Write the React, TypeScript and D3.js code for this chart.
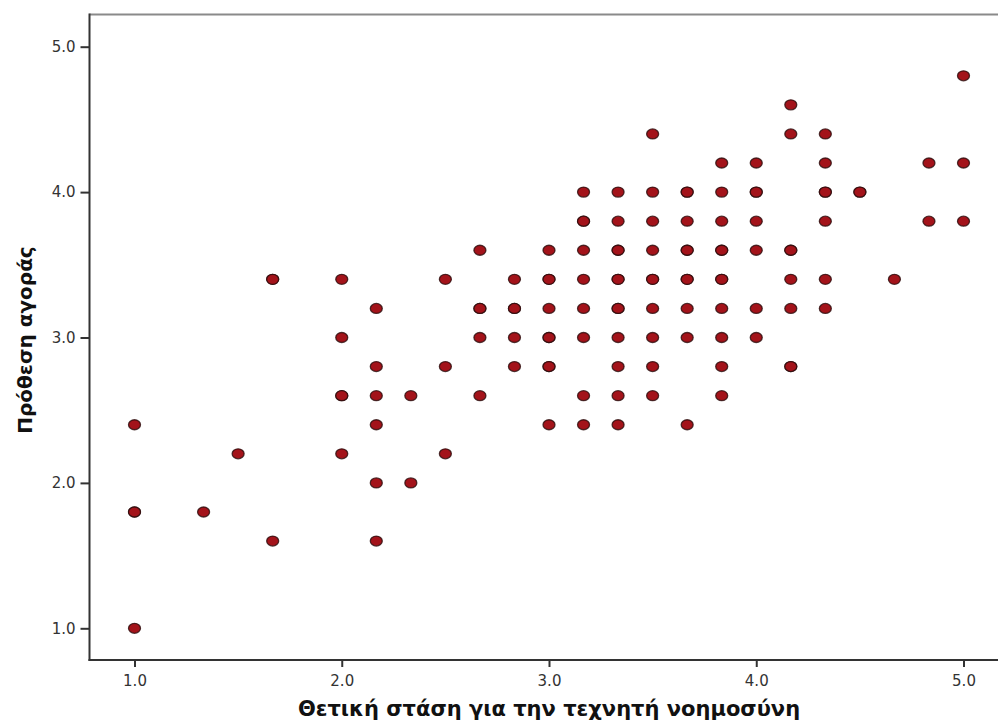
import React, { useEffect, useRef } from "react";
import * as d3 from "d3";

// x values are on a 1/6 grid (mean of 6 items), y on a 0.2 grid (mean of 5 items)
const xCols: number[] = [
  1, 1, 1, 1,
  4 / 3,
  1.5,
  5 / 3, 5 / 3, 5 / 3,
  2, 2, 2, 2, 2,
  13 / 6, 13 / 6, 13 / 6, 13 / 6, 13 / 6, 13 / 6,
  7 / 3, 7 / 3,
  2.5, 2.5, 2.5,
  8 / 3, 8 / 3, 8 / 3, 8 / 3, 8 / 3,
  17 / 6, 17 / 6, 17 / 6, 17 / 6, 17 / 6,
  3, 3, 3, 3, 3, 3, 3, 3, 3,
  19 / 6, 19 / 6, 19 / 6, 19 / 6, 19 / 6, 19 / 6, 19 / 6, 19 / 6, 19 / 6,
  10 / 3, 10 / 3, 10 / 3, 10 / 3, 10 / 3, 10 / 3, 10 / 3, 10 / 3, 10 / 3, 10 / 3, 10 / 3, 10 / 3,
  3.5, 3.5, 3.5, 3.5, 3.5, 3.5, 3.5, 3.5, 3.5, 3.5,
  11 / 3, 11 / 3, 11 / 3, 11 / 3, 11 / 3, 11 / 3, 11 / 3, 11 / 3, 11 / 3, 11 / 3,
  23 / 6, 23 / 6, 23 / 6, 23 / 6, 23 / 6, 23 / 6, 23 / 6, 23 / 6, 23 / 6, 23 / 6, 23 / 6,
  4, 4, 4, 4, 4, 4, 4,
  25 / 6, 25 / 6, 25 / 6, 25 / 6, 25 / 6, 25 / 6, 25 / 6, 25 / 6,
  13 / 3, 13 / 3, 13 / 3, 13 / 3, 13 / 3, 13 / 3, 13 / 3,
  4.5, 4.5,
  14 / 3,
  29 / 6, 29 / 6,
  5, 5, 5,
];

const yRows: number[] = [
  2.4, 1.8, 1.8, 1.0,
  1.8,
  2.2,
  3.4, 3.4, 1.6,
  3.4, 3.0, 2.6, 2.6, 2.2,
  3.2, 2.8, 2.6, 2.4, 2.0, 1.6,
  2.6, 2.0,
  3.4, 2.8, 2.2,
  3.6, 3.2, 3.2, 3.0, 2.6,
  3.4, 3.2, 3.2, 3.0, 2.8,
  3.6, 3.4, 3.2, 3.0, 3.0, 2.8, 2.8, 2.4, 3.4,
  4.0, 3.8, 3.8, 3.6, 3.4, 3.2, 3.0, 2.6, 2.4,
  4.0, 3.8, 3.6, 3.6, 3.4, 3.4, 3.2, 3.2, 3.0, 2.8, 2.6, 2.4,
  4.4, 4.0, 3.8, 3.6, 3.4, 3.4, 3.2, 3.0, 2.8, 2.6,
  4.0, 4.0, 3.8, 3.6, 3.6, 3.4, 3.4, 3.2, 3.0, 2.4,
  4.2, 4.0, 3.8, 3.6, 3.6, 3.4, 3.4, 3.2, 3.0, 2.8, 2.6,
  4.2, 4.0, 4.0, 3.8, 3.6, 3.2, 3.0,
  4.6, 4.4, 3.6, 3.6, 3.4, 3.2, 2.8, 2.8,
  4.4, 4.2, 4.0, 4.0, 3.8, 3.4, 3.2,
  4.0, 4.0,
  3.4,
  4.2, 3.8,
  4.8, 4.2, 3.8,
];

const tickValues: number[] = [1, 2, 3, 4, 5];
const xTitle = "Θετική στάση για την τεχνητή νοημοσύνη";
const yTitle = "Πρόθεση αγοράς";

const W = 998;
const H = 727;

export default function App() {
  const ref = useRef<SVGSVGElement | null>(null);

  useEffect(() => {
    const svg = d3.select(ref.current);
    svg.selectAll("*").remove();

    const x = d3.scaleLinear().domain([1, 5]).range([134.5, 963.5]);
    const y = d3.scaleLinear().domain([1, 5]).range([628.3, 46.7]);

    const left = 89.5;
    const top = 14.5;
    const bottom = 660;

    svg.append("line")
      .attr("x1", left).attr("x2", W + 5)
      .attr("y1", top).attr("y2", top)
      .attr("stroke", "#8a8a8a").attr("stroke-width", 2);

    const fmt = d3.format(".1f");

    const gx = svg.append("g").attr("transform", `translate(0,${bottom})`);
    gx.call(
      d3.axisBottom(x).tickValues(tickValues).tickFormat((d) => fmt(d as number))
        .tickSize(7).tickPadding(8)
    );
    gx.select(".domain").remove();
    gx.append("line")
      .attr("x1", left - 1).attr("x2", W + 5)
      .attr("y1", 0).attr("y2", 0)
      .attr("stroke", "#333").attr("stroke-width", 2);

    const gy = svg.append("g").attr("transform", `translate(${left},0)`);
    gy.call(
      d3.axisLeft(y).tickValues(tickValues).tickFormat((d) => fmt(d as number))
        .tickSize(9).tickPadding(5)
    );
    gy.select(".domain").remove();
    gy.append("line")
      .attr("x1", 0).attr("x2", 0)
      .attr("y1", top - 1).attr("y2", bottom + 1)
      .attr("stroke", "#333").attr("stroke-width", 2);

    [gx, gy].forEach((g) => {
      g.selectAll(".tick line").attr("stroke", "#333").attr("stroke-width", 2);
      g.selectAll(".tick text")
        .attr("fill", "#333")
        .attr("font-family", "'DejaVu Sans', sans-serif")
        .attr("font-size", 15);
    });

    svg.append("g")
      .selectAll("ellipse")
      .data(xCols.map((v, i) => ({ x: v, y: yRows[i] })))
      .join("ellipse")
      .attr("cx", (d) => x(d.x))
      .attr("cy", (d) => y(d.y))
      .attr("rx", 6)
      .attr("ry", 5)
      .attr("fill", "#a3131a")
      .attr("stroke", "#2a0c0c")
      .attr("stroke-opacity", 0.8)
      .attr("stroke-width", 1.3);

    svg.append("text")
      .attr("x", 549)
      .attr("y", 716)
      .attr("text-anchor", "middle")
      .attr("font-family", "'DejaVu Sans', sans-serif")
      .attr("font-weight", "bold")
      .attr("font-size", 21)
      .attr("fill", "#111")
      .text(xTitle);

    svg.append("text")
      .attr("transform", `translate(32,340) rotate(-90)`)
      .attr("text-anchor", "middle")
      .attr("font-family", "'DejaVu Sans', sans-serif")
      .attr("font-weight", "bold")
      .attr("font-size", 20)
      .attr("fill", "#111")
      .text(yTitle);
  }, []);

  return (
    <svg
      ref={ref}
      width={W}
      height={H}
      style={{ position: "absolute", left: 0, top: 0, background: "#fff", display: "block" }}
    />
  );
}
